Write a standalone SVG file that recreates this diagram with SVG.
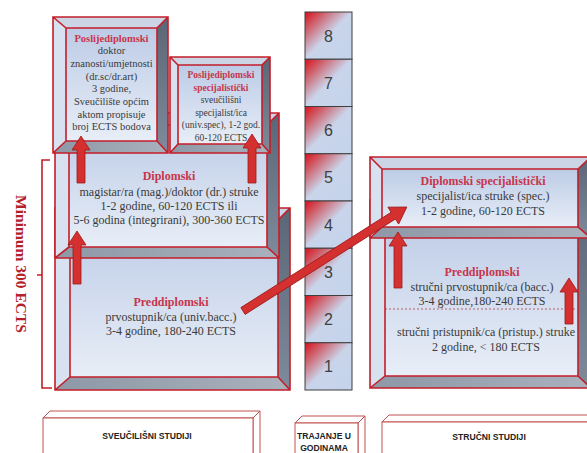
<svg xmlns="http://www.w3.org/2000/svg" width="587" height="453" viewBox="0 0 587 453">
<defs>
<linearGradient id="face" x1="0" y1="0" x2="0" y2="1">
<stop offset="0" stop-color="#bccbe6"/><stop offset="1" stop-color="#e8eef7"/>
</linearGradient>
<linearGradient id="rbev" x1="0" y1="0" x2="0" y2="1">
<stop offset="0" stop-color="#5a6576"/><stop offset="1" stop-color="#7f8a9a"/>
</linearGradient>
<linearGradient id="bbev" x1="0" y1="0" x2="1" y2="0">
<stop offset="0" stop-color="#8e98a6"/><stop offset="1" stop-color="#a9b1bd"/>
</linearGradient>
<linearGradient id="cell" x1="0" y1="0" x2="1" y2="1">
<stop offset="0" stop-color="#d8101c"/><stop offset="0.18" stop-color="#d05660"/><stop offset="0.5" stop-color="#c9d4ea"/><stop offset="1" stop-color="#c4d4ec"/>
</linearGradient>
</defs>
<style>
.face{fill:url(#face)}
.tb{fill:#cbd5e5}
.lb{fill:#d8e1ef}
.rb{fill:url(#rbev)}
.bb{fill:url(#bbev)}
.ol{fill:none;stroke:#c41e2a;stroke-width:1.6;stroke-linejoin:miter}
.t{font-family:"Liberation Serif",serif;fill:#3a3a3a;text-anchor:middle}
.h{font-weight:bold;fill:#c8354c}
.arr{fill:#d3302f;stroke:#9c1a1a;stroke-width:0.8}
.cell{fill:url(#cell);stroke:#3f3f3f;stroke-width:1}
.num{font-family:"Liberation Sans",sans-serif;font-size:16px;fill:#404040;text-anchor:middle}
.lab{fill:#fff;stroke:#c0504d;stroke-width:1}
.lt{font-family:"Liberation Sans",sans-serif;font-weight:bold;font-size:8.6px;fill:#222;text-anchor:middle}
</style>
<rect width="587" height="453" fill="#fff"/>

<!-- Minimum 300 ECTS bracket -->
<g id="minimum">
<path d="M50,160 H42 V388 H52 M42,275 H37" fill="none" stroke="#c41e2a" stroke-width="1.6"/>
<text transform="translate(21,264) rotate(90)" dominant-baseline="central" text-anchor="middle" font-family="Liberation Serif, serif" font-weight="bold" font-size="15.5" fill="#b3202a">Minimum 300 ECTS</text>
</g>

<!-- Left Preddiplomski -->
<g id="preddiplomski-sveuc">
<rect class="face" x="70" y="220" width="208" height="157"/>
<polygon class="tb" points="55,208 290,208 278,220 70,220"/>
<polygon class="lb" points="55,208 70,220 70,377 55,390"/>
<polygon class="rb" points="290,208 290,390 278,377 278,220"/>
<polygon class="bb" points="55,390 290,390 278,377 70,377"/>
<path class="ol" d="M55,208 H290 V390 H55 Z M70,220 H278 V377 H70 Z M55,208 L70,220 M290,208 L278,220 M290,390 L278,377 M55,390 L70,377"/>
<text class="t h" x="171" y="306" font-size="12">Preddiplomski</text>
<text class="t" x="171" y="321" font-size="12">prvostupnik/ca (univ.bacc.)</text>
<text class="t" x="171" y="335" font-size="12">3-4 godine, 180-240 ECTS</text>
</g>

<!-- Left Diplomski -->
<g id="diplomski">
<rect class="face" x="69" y="125" width="198" height="122"/>
<polygon class="tb" points="55,113 279,113 267,125 69,125"/>
<polygon class="lb" points="55,113 69,125 69,247 55,258"/>
<polygon class="rb" points="279,113 279,258 267,247 267,125"/>
<polygon class="bb" points="55,258 279,258 267,247 69,247"/>
<path class="ol" d="M55,113 H279 V258 H55 Z M69,125 H267 V247 H69 Z M55,113 L69,125 M279,113 L267,125 M279,258 L267,247 M55,258 L69,247"/>
<text class="t h" x="169" y="179.5" font-size="12">Diplomski</text>
<text class="t" x="169" y="196" font-size="12">magistar/ra (mag.)/doktor (dr.) struke</text>
<text class="t" x="169" y="210" font-size="12">1-2 godine, 60-120 ECTS ili</text>
<text class="t" x="169" y="224" font-size="12">5-6 godina (integrirani), 300-360 ECTS</text>
</g>

<!-- Poslijediplomski doktor -->
<g id="poslijediplomski-doktor">
<rect class="face" x="66" y="28" width="91" height="113"/>
<polygon class="tb" points="53,17 168,17 157,28 66,28"/>
<polygon class="lb" points="53,17 66,28 66,141 53,153"/>
<polygon class="rb" points="168,17 168,153 157,141 157,28"/>
<polygon class="bb" points="53,153 168,153 157,141 66,141"/>
<path class="ol" d="M53,17 H168 V153 H53 Z M66,28 H157 V141 H66 Z M53,17 L66,28 M168,17 L157,28 M168,153 L157,141 M53,153 L66,141"/>
<text class="t h" x="111.5" y="41.5" font-size="10.5">Poslijediplomski</text>
<text class="t" x="111.5" y="54.2" font-size="10.5">doktor</text>
<text class="t" x="111.5" y="66.9" font-size="10.5">znanosti/umjetnosti</text>
<text class="t" x="111.5" y="79.6" font-size="10.5">(dr.sc/dr.art)</text>
<text class="t" x="111.5" y="92.3" font-size="10.5">3 godine,</text>
<text class="t" x="111.5" y="105" font-size="10.5">Sveučilište općim</text>
<text class="t" x="111.5" y="117.7" font-size="10.5">aktom propisuje</text>
<text class="t" x="111.5" y="130.4" font-size="10.5">broj ECTS bodova</text>
</g>

<!-- Poslijediplomski specijalisticki -->
<g id="poslijediplomski-spec">
<rect class="face" x="178" y="65" width="84" height="79"/>
<polygon class="tb" points="170,57 270,57 262,65 178,65"/>
<polygon class="lb" points="170,57 178,65 178,144 170,153"/>
<polygon class="rb" points="270,57 270,153 262,144 262,65"/>
<polygon class="bb" points="170,153 270,153 262,144 178,144"/>
<path class="ol" d="M170,57 H270 V153 H170 Z M178,65 H262 V144 H178 Z M170,57 L178,65 M270,57 L262,65 M270,153 L262,144 M170,153 L178,144"/>
<text class="t h" x="221" y="78" font-size="9.5">Poslijediplomski</text>
<text class="t h" x="221" y="90.6" font-size="9.5">specijalistički</text>
<text class="t" x="221" y="103.2" font-size="9.5">sveučilišni</text>
<text class="t" x="221" y="115.8" font-size="9.5">specijalist/ica</text>
<text class="t" x="221" y="128.4" font-size="9.5">(univ.spec), 1-2 god.</text>
<text class="t" x="221" y="141" font-size="9.5">60-120 ECTS</text>
</g>

<!-- Timeline -->
<g id="trajanje">
<rect class="cell" x="305" y="12" width="47" height="47.25"/>
<rect class="cell" x="305" y="59.25" width="47" height="47.25"/>
<rect class="cell" x="305" y="106.5" width="47" height="47.25"/>
<rect class="cell" x="305" y="153.75" width="47" height="47.25"/>
<rect class="cell" x="305" y="201" width="47" height="47.25"/>
<rect class="cell" x="305" y="248.25" width="47" height="47.25"/>
<rect class="cell" x="305" y="295.5" width="47" height="47.25"/>
<rect class="cell" x="305" y="342.75" width="47" height="47.25"/>
<text class="num" x="328.5" y="41.5">8</text>
<text class="num" x="328.5" y="88.7">7</text>
<text class="num" x="328.5" y="136">6</text>
<text class="num" x="328.5" y="183.2">5</text>
<text class="num" x="328.5" y="230.5">4</text>
<text class="num" x="328.5" y="277.7">3</text>
<text class="num" x="328.5" y="325">2</text>
<text class="num" x="328.5" y="372.2">1</text>
</g>

<!-- Right Preddiplomski -->
<g id="preddiplomski-strucni">
<rect class="face" x="385" y="212" width="193" height="164"/>
<polygon class="tb" points="370,200 591,200 578,212 385,212"/>
<polygon class="lb" points="370,200 385,212 385,376 370,388"/>
<polygon class="rb" points="591,200 591,388 578,376 578,212"/>
<polygon class="bb" points="370,388 591,388 578,376 385,376"/>
<path class="ol" d="M370,200 H591 V388 H370 Z M385,212 H578 V376 H385 Z M370,200 L385,212 M591,200 L578,212 M591,388 L578,376 M370,388 L385,376"/>
<line x1="385" y1="309" x2="578" y2="309" stroke="#b0404e" stroke-width="0.8" stroke-dasharray="2,2"/>
<text class="t h" x="482" y="276" font-size="12">Preddiplomski</text>
<text class="t" x="482" y="291" font-size="12">stručni prvostupnik/ca (bacc.)</text>
<text class="t" x="482" y="305" font-size="12">3-4 godine,180-240 ECTS</text>
<text class="t" x="486" y="336" font-size="12">stručni pristupnik/ca (pristup.) struke</text>
<text class="t" x="486" y="351" font-size="12">2 godine, &lt; 180 ECTS</text>
</g>

<!-- Right Diplomski specijalisticki -->
<g id="diplomski-specijalisticki">
<rect class="face" x="382" y="169" width="196" height="58"/>
<polygon class="tb" points="370,157 591,157 578,169 382,169"/>
<polygon class="lb" points="370,157 382,169 382,227 370,238"/>
<polygon class="rb" points="591,157 591,238 578,227 578,169"/>
<polygon class="bb" points="370,238 591,238 578,227 382,227"/>
<path class="ol" d="M370,157 H591 V238 H370 Z M382,169 H578 V227 H382 Z M370,157 L382,169 M591,157 L578,169 M591,238 L578,227 M370,238 L382,227"/>
<text class="t h" x="483" y="185" font-size="12">Diplomski specijalistički</text>
<text class="t" x="483" y="200" font-size="12">specijalist/ica struke (spec.)</text>
<text class="t" x="483" y="215" font-size="12">1-2 godine, 60-120 ECTS</text>
</g>

<!-- Bottom labels -->
<g id="label-sveucilisni">
<polygon class="lab" points="43,418 50,411 260,411 253,418"/>
<polygon class="lab" points="253,418 260,411 260,460 253,460"/>
<rect class="lab" x="43" y="418" width="210" height="42"/>
<text class="lt" x="147" y="439">SVEUČILIŠNI STUDIJI</text>
</g>
<g id="label-trajanje">
<polygon class="lab" points="295,423 302,416 365,416 358,423"/>
<polygon class="lab" points="358,423 365,416 365,460 358,460"/>
<rect class="lab" x="295" y="423" width="63" height="37"/>
<text class="lt" x="324" y="439">TRAJANJE U</text>
<text class="lt" x="324" y="451">GODINAMA</text>
</g>
<g id="label-strucni">
<polygon class="lab" points="382,422 389,415 600,415 593,422"/>
<rect class="lab" x="382" y="422" width="220" height="38"/>
<text class="lt" x="489" y="440">STRUČNI STUDIJI</text>
</g>

<!-- Connectors -->
<g id="connectors">
<polygon class="arr" points="77,183 77,150 72,150 81,136 90,150 85,150 85,183"/>
<polygon class="arr" points="248,183 248,148 243,148 252,134 261,148 256,148 256,183"/>
<polygon class="arr" points="73,284 73,245 68,245 77,231 86,245 81,245 81,284"/>
<polygon class="arr" points="394,288 394,246 389,246 398,232 407,246 402,246 402,288"/>
<polygon class="arr" points="565,324 565,292 560,292 569,278 578,292 573,292 573,324"/>
<polygon class="arr" transform="translate(243,311) rotate(-32.4)" points="0,-4 178,-4 178,-10 194,0 178,10 178,4 0,4"/>
</g>
</svg>
